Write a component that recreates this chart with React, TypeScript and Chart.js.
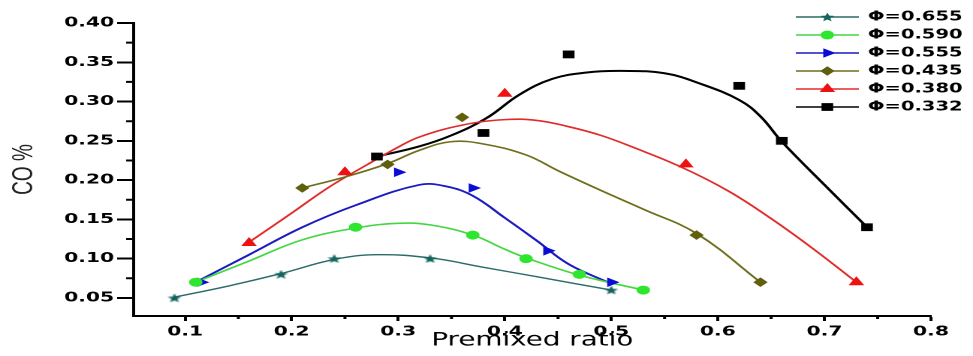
import React, { useEffect, useRef } from 'react';
import { Chart, registerables } from 'chart.js';

Chart.register(...registerables);

// ---------- data ----------
const seriesNames = ['Φ=0.655', 'Φ=0.590', 'Φ=0.555', 'Φ=0.435', 'Φ=0.380', 'Φ=0.332'];

const xTickValues = [0.1, 0.2, 0.3, 0.4, 0.5, 0.6, 0.7, 0.8];
const xMinorValues = [0.15, 0.25, 0.35, 0.45, 0.55, 0.65, 0.75];
const yTickValues = [0.05, 0.1, 0.15, 0.2, 0.25, 0.3, 0.35, 0.4];
const yMinorValues = [0.075, 0.125, 0.175, 0.225, 0.275, 0.325, 0.375];

// measured points (markers)
const p655X = [0.09, 0.19, 0.24, 0.33, 0.5];
const p655Y = [0.05, 0.08, 0.1, 0.1, 0.06];
const p590X = [0.11, 0.26, 0.37, 0.42, 0.47, 0.53];
const p590Y = [0.07, 0.14, 0.13, 0.1, 0.08, 0.06];
const p555X = [0.115, 0.3, 0.37, 0.44, 0.5];
const p555Y = [0.07, 0.21, 0.19, 0.11, 0.07];
const p435X = [0.21, 0.29, 0.36, 0.58, 0.64];
const p435Y = [0.19, 0.22, 0.28, 0.13, 0.07];
const p380X = [0.16, 0.25, 0.4, 0.57, 0.73];
const p380Y = [0.12, 0.21, 0.31, 0.22, 0.07];
const p332X = [0.28, 0.38, 0.46, 0.62, 0.66, 0.74];
const p332Y = [0.23, 0.26, 0.36, 0.32, 0.25, 0.14];

// fitted curves
const f655X = [0.09, 0.14, 0.19, 0.24, 0.28, 0.33, 0.38, 0.43, 0.5];
const f655Y = [0.051, 0.065, 0.081, 0.099, 0.105, 0.101, 0.089, 0.077, 0.06];
const f590X = [0.11, 0.16, 0.21, 0.26, 0.3, 0.33, 0.37, 0.4, 0.42, 0.47, 0.53];
const f590Y = [0.07, 0.097, 0.124, 0.139, 0.145, 0.143, 0.13, 0.112, 0.101, 0.079, 0.06];
const f555X = [0.11, 0.16, 0.21, 0.26, 0.32, 0.345, 0.37, 0.4, 0.43, 0.46, 0.5];
const f555Y = [0.07, 0.105, 0.14, 0.168, 0.194, 0.192, 0.18, 0.152, 0.123, 0.093, 0.068];
const f435X = [0.21, 0.25, 0.29, 0.32, 0.35, 0.38, 0.42, 0.45, 0.49, 0.53, 0.58, 0.64];
const f435Y = [0.19, 0.204, 0.221, 0.238, 0.249, 0.246, 0.232, 0.212, 0.187, 0.163, 0.132, 0.07];
const f380X = [0.16, 0.2, 0.235, 0.27, 0.3, 0.32, 0.36, 0.4, 0.43, 0.46, 0.49, 0.52, 0.565, 0.61, 0.65, 0.69, 0.73];
const f380Y = [0.121, 0.158, 0.191, 0.219, 0.242, 0.255, 0.27, 0.277, 0.276, 0.268, 0.257, 0.242, 0.217, 0.186, 0.151, 0.112, 0.07];
const f332X = [0.28, 0.32, 0.35, 0.383, 0.414, 0.445, 0.477, 0.51, 0.55, 0.583, 0.62, 0.64, 0.66, 0.7, 0.74];
const f332Y = [0.23, 0.243, 0.257, 0.279, 0.309, 0.329, 0.337, 0.339, 0.336, 0.323, 0.302, 0.281, 0.249, 0.194, 0.14];

const pointsX = [p655X, p590X, p555X, p435X, p380X, p332X];
const pointsY = [p655Y, p590Y, p555Y, p435Y, p380Y, p332Y];
const fitX = [f655X, f590X, f555X, f435X, f380X, f332X];
const fitY = [f655Y, f590Y, f555Y, f435Y, f380Y, f332Y];

// ---------- styles ----------
const markerColors = ['#15655f', '#2fe62f', '#0b0bd6', '#5f5f0c', '#ee1111', '#000000'];
const lineColors = ['#2b6b68', '#43d643', '#1a1abf', '#6e6e1c', '#e02b2b', '#000000'];
const lineWidths = [1.4, 1.6, 1.8, 1.6, 1.6, 2];
const markerStyles = ['star', 'circle', 'triangle', 'rectRot', 'triangle', 'rect'];
const markerRadii = [5, 4.5, 5.5, 4.8, 6, 5.5];
const markerRotations = [0, 0, 90, 0, 0, 0];

const W_U = 648; // un-stretched canvas width
const STRETCH = 973 / W_U;

function starPath(ctx: CanvasRenderingContext2D, cx: number, cy: number, R: number) {
  const r = R * 0.45;
  ctx.beginPath();
  for (let k = 0; k < 10; k++) {
    const a = -Math.PI / 2 + (k * Math.PI) / 5;
    const rr = k % 2 === 0 ? R : r;
    const px = cx + Math.cos(a) * rr;
    const py = cy + Math.sin(a) * rr;
    if (k === 0) ctx.moveTo(px, py);
    else ctx.lineTo(px, py);
  }
  ctx.closePath();
}

function makeStarImage(color: string) {
  const c = document.createElement('canvas');
  c.width = 10;
  c.height = 9;
  const g = c.getContext('2d')!;
  g.fillStyle = color;
  starPath(g, 5, 4.9, 4.8);
  g.fill();
  return c;
}

function drawMarker(ctx: CanvasRenderingContext2D, i: number, x: number, y: number) {
  const style = markerStyles[i];
  const r = markerRadii[i];
  const rot = (markerRotations[i] * Math.PI) / 180;
  ctx.fillStyle = markerColors[i];
  ctx.beginPath();
  if (style === 'star') {
    starPath(ctx, x, y + 0.4, 4.8);
  } else if (style === 'circle') {
    ctx.arc(x, y, r, 0, Math.PI * 2);
  } else if (style === 'triangle') {
    let a = rot;
    ctx.moveTo(x + Math.sin(a) * r, y - Math.cos(a) * r);
    a += (2 * Math.PI) / 3;
    ctx.lineTo(x + Math.sin(a) * r, y - Math.cos(a) * r);
    a += (2 * Math.PI) / 3;
    ctx.lineTo(x + Math.sin(a) * r, y - Math.cos(a) * r);
    ctx.closePath();
  } else if (style === 'rectRot') {
    ctx.moveTo(x, y - r);
    ctx.lineTo(x + r, y);
    ctx.lineTo(x, y + r);
    ctx.lineTo(x - r, y);
    ctx.closePath();
  } else if (style === 'rect') {
    const s = Math.SQRT1_2 * r;
    ctx.rect(x - s, y - s, 2 * s, 2 * s);
  }
  ctx.fill();
}

const minorTicksPlugin = {
  id: 'minorTicks',
  afterDraw(chart: any) {
    const ctx = chart.ctx as CanvasRenderingContext2D;
    const xs = chart.scales.x;
    const ys = chart.scales.y;
    const area = chart.chartArea;
    ctx.save();
    ctx.strokeStyle = '#000';
    ctx.lineWidth = 2;
    ctx.beginPath();
    yMinorValues.forEach((v) => {
      const py = ys.getPixelForValue(v);
      ctx.moveTo(area.left - 5, py);
      ctx.lineTo(area.left, py);
    });
    xMinorValues.forEach((v) => {
      const px = xs.getPixelForValue(v);
      ctx.moveTo(px, area.bottom);
      ctx.lineTo(px, area.bottom + 3);
    });
    ctx.stroke();
    ctx.restore();
  },
};

const LEG_X0 = 530;
const LEG_X1 = 572;
const LEG_TX = 578;
const LEG_Y0 = 17;
const LEG_DY = 18;

const legendPlugin = {
  id: 'originLegend',
  afterDraw(chart: any) {
    const ctx = chart.ctx as CanvasRenderingContext2D;
    ctx.save();
    seriesNames.forEach((name, i) => {
      const y = LEG_Y0 + i * LEG_DY;
      ctx.strokeStyle = lineColors[i];
      ctx.lineWidth = 1.5;
      ctx.beginPath();
      ctx.moveTo(LEG_X0, y);
      ctx.lineTo(LEG_X1, y);
      ctx.stroke();
      drawMarker(ctx, i, (LEG_X0 + LEG_X1) / 2, y);
      ctx.fillStyle = '#000';
      ctx.font = 'bold 13px "DejaVu Sans"';
      ctx.textBaseline = 'middle';
      ctx.textAlign = 'left';
      ctx.fillText(name, LEG_TX, y);
    });
    ctx.restore();
  },
};

export default function App() {
  const ref = useRef<HTMLCanvasElement>(null);

  useEffect(() => {
    document.body.style.margin = '0';
    document.body.style.overflow = 'hidden';
    const starImg = makeStarImage(markerColors[0]);

    const datasets: any[] = [];
    seriesNames.forEach((name, i) => {
      datasets.push({
        label: name + ' fit',
        data: fitX[i].map((x, k) => ({ x, y: fitY[i][k] })),
        showLine: true,
        borderColor: lineColors[i],
        borderWidth: lineWidths[i],
        pointRadius: 0,
        tension: 0.4,
        fill: false,
        order: 2,
      });
    });
    seriesNames.forEach((name, i) => {
      datasets.push({
        label: name,
        data: pointsX[i].map((x, k) => ({ x, y: pointsY[i][k] })),
        showLine: false,
        pointStyle: markerStyles[i] === 'star' ? starImg : markerStyles[i],
        pointRadius: markerRadii[i],
        pointRotation: markerRotations[i],
        backgroundColor: markerColors[i],
        borderColor: markerColors[i],
        borderWidth: 0,
        order: 1,
      });
    });

    const chart = new Chart(ref.current!, {
      type: 'scatter',
      data: { datasets },
      options: {
        animation: false,
        responsive: true,
        maintainAspectRatio: false,
        devicePixelRatio: 2,
        layout: { padding: { top: 23, right: 28, left: 0, bottom: 0 } },
        plugins: { legend: { display: false }, tooltip: { enabled: false } },
        scales: {
          x: {
            type: 'linear',
            min: 0.0517,
            max: 0.8,
            afterBuildTicks: (s: any) => {
              s.ticks = xTickValues.map((v) => ({ value: v }));
            },
            afterFit: (s: any) => {
              s.height = 40;
            },
            grid: { drawOnChartArea: false, drawTicks: true, tickLength: 5, tickWidth: 2, tickColor: '#000' },
            border: { display: true, color: '#000', width: 2 },
            ticks: {
              color: '#000',
              padding: 3,
              maxRotation: 0,
              autoSkip: false,
              font: { family: '"DejaVu Sans"', size: 13.5, weight: 'bold' },
              callback: (v: any) => Number(v).toFixed(1),
            },
            title: {
              display: true,
              text: 'Premixed ratio',
              color: '#000',
              font: { family: '"DejaVu Sans"', size: 18.5 },
              padding: { top: 0, bottom: 4 },
            },
          },
          y: {
            type: 'linear',
            min: 0.027,
            max: 0.4,
            afterBuildTicks: (s: any) => {
              s.ticks = yTickValues.map((v) => ({ value: v }));
            },
            afterFit: (s: any) => {
              s.width = 89;
            },
            grid: { drawOnChartArea: false, drawTicks: true, tickLength: 11, tickWidth: 2, tickColor: '#000' },
            border: { display: true, color: '#000', width: 2 },
            ticks: {
              color: '#000',
              padding: 2,
              autoSkip: false,
              font: { family: '"DejaVu Sans"', size: 13.5, weight: 'bold' },
              callback: (v: any) => Number(v).toFixed(2),
            },
            title: {
              display: true,
              text: 'CO %',
              color: '#222',
              font: { family: '"Liberation Sans Narrow", "Liberation Sans"', size: 19 },
              padding: { top: 5, bottom: 0 },
            },
          },
        },
      },
      plugins: [minorTicksPlugin, legendPlugin],
    });
    return () => chart.destroy();
  }, []);

  return (
    <div style={{ width: 973, height: 356, overflow: 'hidden', background: '#fff' }}>
      <div
        style={{
          width: W_U,
          height: 356,
          transform: `scaleX(${STRETCH})`,
          transformOrigin: '0 0',
        }}
      >
        <canvas ref={ref} />
      </div>
    </div>
  );
}
